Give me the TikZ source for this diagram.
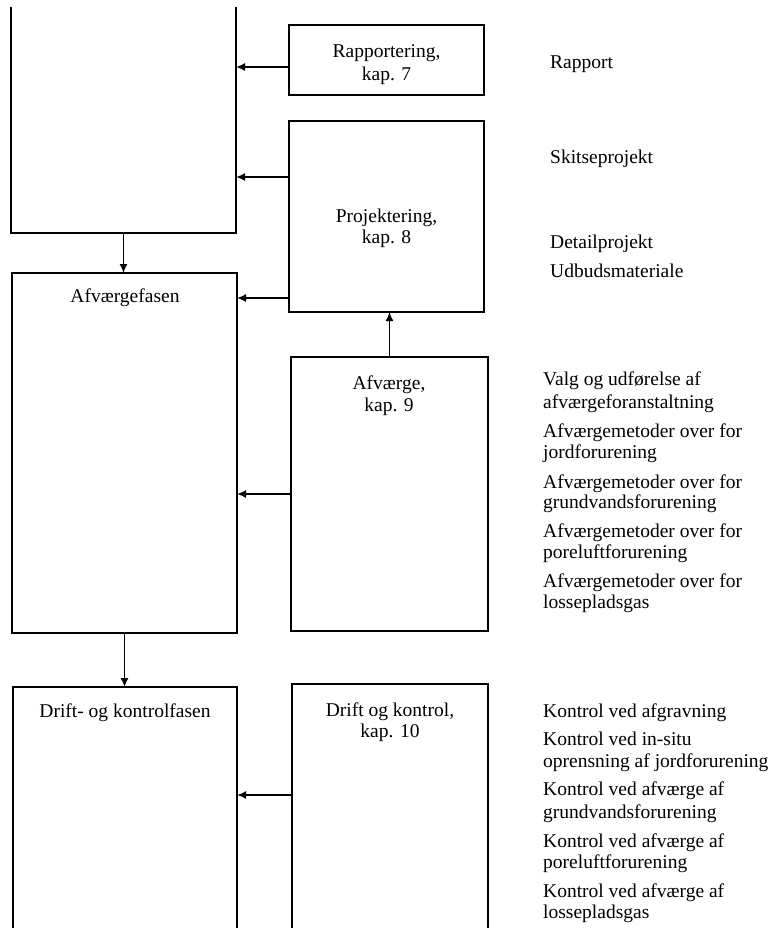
\documentclass[tikz,border=0pt]{standalone}
\usepackage{fontspec}
\setmainfont{Liberation Serif}
\usetikzlibrary{arrows.meta}
\begin{document}
\begin{tikzpicture}[x=1pt,y=-1pt,
  font=\fontsize{19.5}{22}\selectfont,
  frame/.style={draw, line width=2pt, inner sep=0pt, outer sep=0pt},
  openframe/.style={draw=none, inner sep=0pt, outer sep=0pt},
  side/.style={line width=2pt},
  arr/.style={line width=1.6pt, -{Latex[length=9pt,width=8pt]}},
  ttl/.style={anchor=base, inner sep=0pt},
  itm/.style={anchor=base west, inner sep=0pt}]
\path[use as bounding box] (0,0) rectangle (782,930);

% left column boxes
\node[openframe, minimum width=225pt, minimum height=226pt] (topbox) at (123.5,120) {};
\draw[side] (topbox.north west) -- (topbox.south west) -- (topbox.south east) -- (topbox.north east);
\node[frame, minimum width=225pt, minimum height=360pt] (afv) at (124.5,453) {};
\node[openframe, minimum width=224pt, minimum height=241pt] (drift) at (125,807.5) {};
\draw[side] (drift.south west) -- (drift.north west) -- (drift.north east) -- (drift.south east);

% middle column boxes
\node[frame, minimum width=195pt, minimum height=70pt] (rap) at (386.5,60) {};
\node[frame, minimum width=195pt, minimum height=191pt] (proj) at (386.5,216.5) {};
\node[frame, minimum width=197pt, minimum height=274pt] (afvk) at (389.5,494) {};
\node[openframe, minimum width=196pt, minimum height=244pt] (driftk) at (390,806) {};
\draw[side] (driftk.south west) -- (driftk.north west) -- (driftk.north east) -- (driftk.south east);

% titles
\node[ttl] (tafv) at (125,302) {Afværgefasen};
\node[ttl] (tdrift) at (125,717) {Drift- og kontrolfasen};
\node[ttl] (trap1) at (386.5,57) {Rapportering,};
\node[ttl] (trap2) at (386.5,80) {kap. 7};
\node[ttl] (tproj1) at (386.5,222) {Projektering,};
\node[ttl] (tproj2) at (386.5,243) {kap. 8};
\node[ttl] (tafvk1) at (389,389) {Afværge,};
\node[ttl] (tafvk2) at (389,411) {kap. 9};
\node[ttl] (tdk1) at (390,716) {Drift og kontrol,};
\node[ttl] (tdk2) at (390,737) {kap. 10};

% connectors
\draw[arr] ([yshift=-7pt]rap.west) -- ([yshift=-7pt]rap.west -| topbox.east);
\draw[arr] ([yshift=39.5pt]proj.west) -- ([yshift=39.5pt]proj.west -| topbox.east);
\draw[arr] ([yshift=-81.5pt]proj.west) -- ([yshift=-81.5pt]proj.west -| afv.east);
\draw[arr] (afvk.north) -- (afvk.north |- proj.south);
\draw[arr] (afvk.west) -- (afvk.west -| afv.east);
\draw[arr] ([yshift=11pt]driftk.west) -- ([yshift=11pt]driftk.west -| drift.east);
\draw[arr] (topbox.south) -- (topbox.south |- afv.north);
\draw[arr] (afv.south) -- (afv.south |- drift.north);

% right column texts
\node[itm] (r1) at (550,68) {Rapport};
\node[itm] (r2) at (550,163) {Skitseprojekt};
\node[itm] (r3) at (550,248) {Detailprojekt};
\node[itm] (r4) at (550,277) {Udbudsmateriale};

\node[itm] (a1) at (543,385) {Valg og udførelse af};
\node[itm] (a2) at (543,408) {afværgeforanstaltning};
\node[itm] (a3) at (543,437) {Afværgemetoder over for};
\node[itm] (a4) at (543,458) {jordforurening};
\node[itm] (a5) at (543,488) {Afværgemetoder over for};
\node[itm] (a6) at (543,508) {grundvandsforurening};
\node[itm] (a7) at (543,537) {Afværgemetoder over for};
\node[itm] (a8) at (543,558) {poreluftforurening};
\node[itm] (a9) at (543,587) {Afværgemetoder over for};
\node[itm] (a10) at (543,608) {lossepladsgas};

\node[itm] (k1) at (543,717) {Kontrol ved afgravning};
\node[itm] (k2) at (543,745) {Kontrol ved in-situ};
\node[itm] (k3) at (543,767) {oprensning af jordforurening};
\node[itm] (k4) at (543,795) {Kontrol ved afværge af};
\node[itm] (k5) at (543,818) {grundvandsforurening};
\node[itm] (k6) at (543,847) {Kontrol ved afværge af};
\node[itm] (k7) at (543,868) {poreluftforurening};
\node[itm] (k8) at (543,897) {Kontrol ved afværge af};
\node[itm] (k9) at (543,918) {lossepladsgas};
\end{tikzpicture}
\end{document}
